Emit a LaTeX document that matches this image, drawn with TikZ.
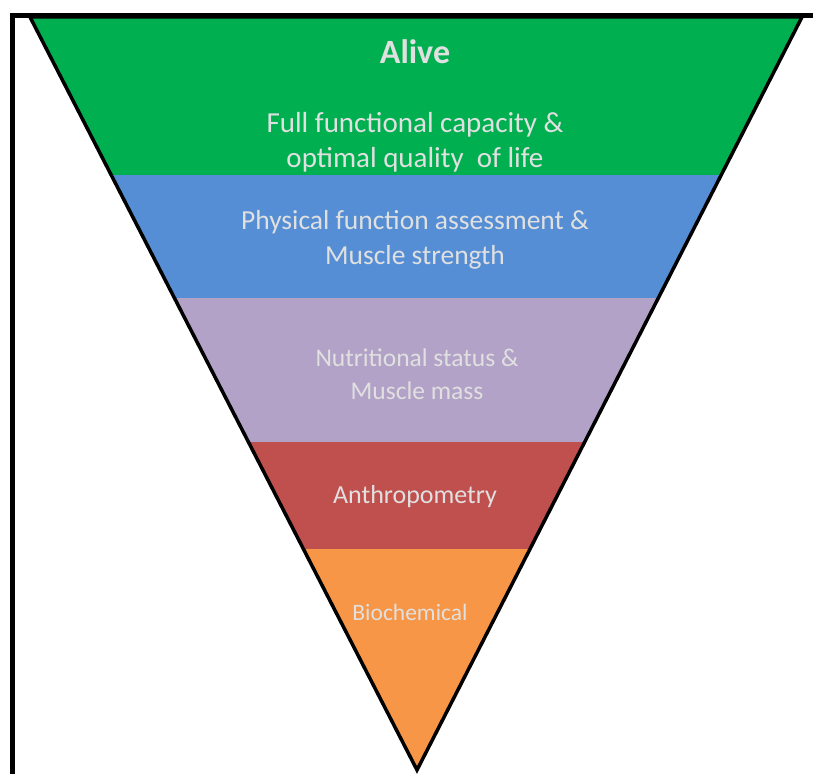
\documentclass[tikz,border=0pt]{standalone}
\usepackage{fontspec}
\setmainfont{Carlito}
\definecolor{alivegreen}{HTML}{00B050}
\definecolor{physblue}{HTML}{558ED5}
\definecolor{nutrpurple}{HTML}{B3A2C7}
\definecolor{anthred}{HTML}{C0504D}
\definecolor{biochorange}{HTML}{F79646}
\tikzset{
  band/.style={draw=none},
  lbl/.style={align=center, text=white!88!black, inner sep=0pt},
}
\begin{document}
\begin{tikzpicture}[x=1pt,y=-1pt]
            \useasboundingbox (0,0) rectangle (813,773);
            \coordinate (tl) at (30,17);
            \coordinate (tr) at (802,17);
            \coordinate (apex) at (417,770);
            \begin{scope}
                \clip (tl) -- (tr) -- (apex) -- cycle;
                \fill[alivegreen] (0,0) rectangle (813,175);
                \fill[physblue] (0,175) rectangle (813,298);
                \fill[nutrpurple] (0,298) rectangle (813,442);
                \fill[anthred] (0,442) rectangle (813,549);
                \fill[biochorange] (0,549) rectangle (813,773);
            \end{scope}
            \draw[line width=3.5pt, line join=miter] (tl) -- (tr) -- (apex) -- cycle;
            \draw[line width=5pt] (12,16) rectangle (830,790);
            \node[lbl, font=\fontsize{34}{34}\selectfont\bfseries] (alive) at (415,52) {Alive};
            \node[lbl, font=\fontsize{29}{35}\selectfont] (full) at (415,142) {Full functional capacity \&\\optimal quality\ \ of life};
            \node[lbl, font=\fontsize{27.5}{35}\selectfont] (phys) at (415,240) {Physical function assessment \&\\Muscle strength};
            \node[lbl, font=\fontsize{25.5}{33}\selectfont] (nutr) at (417,374) {Nutritional status \&\\Muscle mass};
            \node[lbl, font=\fontsize{26}{26}\selectfont] (anth) at (415,497) {Anthropometry};
            \node[lbl, font=\fontsize{23.5}{23.5}\selectfont] (bioch) at (410,612) {Biochemical};
        \end{tikzpicture}
\end{document}
